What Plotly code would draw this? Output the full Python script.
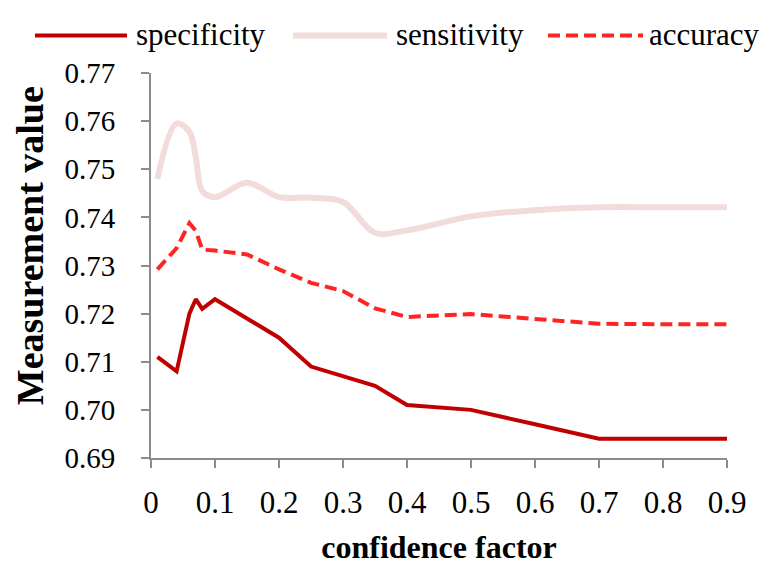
import plotly.graph_objects as go

confidence_factor = [0.01, 0.04, 0.06, 0.07, 0.08, 0.1, 0.15, 0.2, 0.25, 0.3, 0.35, 0.4, 0.5, 0.6, 0.7, 0.8, 0.9]
specificity = [0.711, 0.708, 0.720, 0.723, 0.721, 0.723, 0.719, 0.715, 0.709, 0.707, 0.705, 0.701, 0.700, 0.697, 0.694, 0.694, 0.694]
sensitivity = [0.748, 0.7595, 0.7578, 0.7525, 0.7455, 0.7442, 0.7472, 0.7442, 0.7441, 0.7432, 0.7368, 0.7373, 0.7402, 0.7415, 0.7421, 0.7421, 0.7421]
accuracy = [0.7292, 0.7336, 0.7388, 0.7372, 0.7333, 0.7331, 0.7323, 0.7292, 0.7264, 0.7247, 0.7211, 0.7193, 0.7199, 0.7189, 0.7179, 0.7178, 0.7178]

x_ticks = [0, 0.1, 0.2, 0.3, 0.4, 0.5, 0.6, 0.7, 0.8, 0.9]
x_tick_labels = ["0", "0.1", "0.2", "0.3", "0.4", "0.5", "0.6", "0.7", "0.8", "0.9"]
y_ticks = [0.69, 0.70, 0.71, 0.72, 0.73, 0.74, 0.75, 0.76, 0.77]
y_tick_labels = ["0.69", "0.70", "0.71", "0.72", "0.73", "0.74", "0.75", "0.76", "0.77"]

series_names = ["specificity", "sensitivity", "accuracy"]
colors = ["#C00000", "#F2DCDB", "#FF2424"]
widths = [4, 6, 4]
dashes = ["solid", "solid", "12px,6px"]
shapes_ = ["linear", "spline", "linear"]

FONT = "Liberation Serif, Times New Roman, serif"

# page has an 8px body margin; plot area sits at page x 151..727, y 73..462
OFF = 8
PL, PR, PT, PB = 151 - OFF, 727 - OFF, 73 - OFF, 462 - OFF
W, H = 774 - OFF, 571 - OFF
PW, PH = PR - PL, PB - PT


def px(x):
    return (x - 151) / 576


def py(y):
    return (462 - y) / 389


fig = go.Figure()
for name, ys, c, w, d, s in zip(series_names, [specificity, sensitivity, accuracy], colors, widths, dashes, shapes_):
    fig.add_trace(go.Scatter(
        x=confidence_factor, y=ys, name=name, mode="lines",
        line=dict(color=c, width=w, dash=d, shape=s, smoothing=1.0),
        showlegend=False,
    ))

# Manual legend (line samples + labels) at the top, page coordinates
legend_items = [
    (35, 127, 134),
    (293, 387, 394),
    (548, 643, 647),
]
ly = 35
for (x0, x1, tx), name, c, w, d in zip(legend_items, series_names, colors, widths, dashes):
    fig.add_shape(type="line", xref="paper", yref="paper",
                  x0=px(x0), x1=px(x1), y0=py(ly), y1=py(ly),
                  line=dict(color=c, width=w, dash=d))
    fig.add_annotation(xref="paper", yref="paper",
                       x=px(tx), y=py(ly - 1),
                       xanchor="left", yanchor="middle", text=name, showarrow=False,
                       font=dict(family=FONT, size=31, color="#000000"))

# y-axis title (placed like the original, slightly above plot centre)
fig.add_annotation(xref="paper", yref="paper", x=px(30), y=py(248),
                   xanchor="center", yanchor="middle", textangle=-90,
                   text="<b>Measurement value</b>", showarrow=False,
                   font=dict(family=FONT, size=38, color="#000000"))

fig.update_layout(
    width=W, height=H,
    margin=dict(l=PL, r=W - PR, t=PT, b=H - PB, pad=0),
    paper_bgcolor="white", plot_bgcolor="white",
    font=dict(family=FONT, color="#000000"),
    showlegend=False,
)
fig.update_xaxes(
    range=[0, 0.9], tickmode="array", tickvals=x_ticks, ticktext=x_tick_labels,
    showgrid=False, zeroline=False, showline=True, linecolor="#8C8C8C", linewidth=2,
    ticks="outside", ticklen=8, tickwidth=2, tickcolor="#8C8C8C",
    tickfont=dict(family=FONT, size=31), ticklabelstandoff=8,
    title=dict(text="<b>confidence factor</b>", font=dict(family=FONT, size=32), standoff=16),
)
fig.update_yaxes(
    range=[0.69, 0.77], tickmode="array", tickvals=y_ticks, ticktext=y_tick_labels,
    showgrid=False, zeroline=False, showline=True, linecolor="#8C8C8C", linewidth=2,
    ticks="outside", ticklen=8, tickwidth=2, tickcolor="#8C8C8C",
    tickfont=dict(family=FONT, size=29), ticklabelstandoff=20,
)

fig.write_html("out.html")
